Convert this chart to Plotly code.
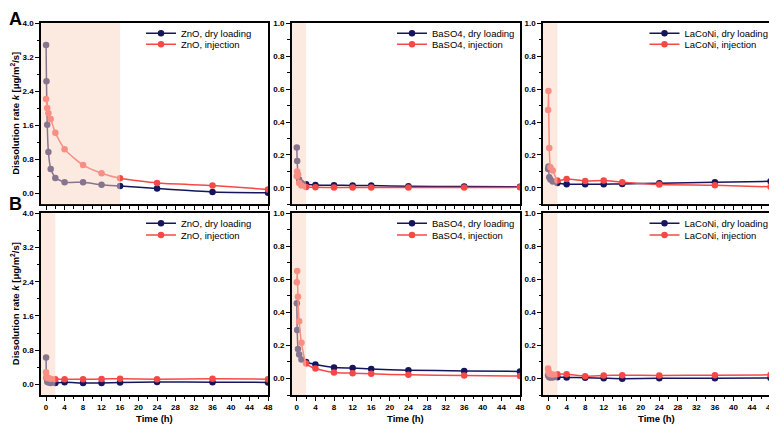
import plotly.graph_objects as go

# ---------------- data ----------------
TIME = [0, 0.083, 0.25, 0.5, 1, 2, 4, 8, 12, 16, 24, 36, 48]
TIME_ZNO_INJ_A = [0, 0.25, 0.5, 1, 2, 4, 8, 12, 16, 24, 36, 48]

# Row A
ZNO_DRY_A = [3.49, 2.64, 1.62, 0.98, 0.58, 0.37, 0.27, 0.265, 0.21, 0.18, 0.12, 0.04, 0.02]
ZNO_INJ_A = [2.22, 2.01, 1.89, 1.75, 1.43, 1.04, 0.67, 0.48, 0.36, 0.25, 0.19, 0.10]
BASO4_DRY_A = [0.245, 0.163, 0.08, 0.05, 0.03, 0.022, 0.018, 0.016, 0.015, 0.014, 0.01, 0.008, 0.006]
BASO4_INJ_A = [0.07, 0.10, 0.08, 0.03, 0.015, 0.005, 0.003, 0.002, 0.002, 0.002, 0.002, 0.002, 0.003]
LACONI_DRY_A = [0.115, 0.13, 0.065, 0.05, 0.038, 0.03, 0.022, 0.022, 0.022, 0.024, 0.028, 0.034, 0.04]
LACONI_INJ_A = [0.473, 0.588, 0.242, 0.125, 0.105, 0.045, 0.054, 0.042, 0.044, 0.034, 0.02, 0.016, 0.006]

# Row B
ZNO_DRY_B = [0.63, 0.15, 0.06, 0.04, 0.03, 0.03, 0.047, 0.03, 0.03, 0.04, 0.055, 0.047, 0.045]
ZNO_INJ_B = [0.28, 0.18, 0.15, 0.14, 0.13, 0.12, 0.117, 0.117, 0.125, 0.13, 0.117, 0.13, 0.12]
BASO4_DRY_B = [0.455, 0.293, 0.178, 0.145, 0.115, 0.10, 0.085, 0.067, 0.063, 0.057, 0.05, 0.046, 0.043]
BASO4_INJ_B = [0.582, 0.65, 0.495, 0.347, 0.216, 0.091, 0.06, 0.036, 0.032, 0.028, 0.022, 0.018, 0.015]
LACONI_DRY_B = [0.02, 0.015, 0.008, 0.006, 0.006, 0.008, 0.006, 0.005, 0.002, -0.001, 0.002, 0.002, 0.003]
LACONI_INJ_B = [0.06, 0.046, 0.03, 0.026, 0.024, 0.026, 0.026, 0.014, 0.018, 0.02, 0.018, 0.02, 0.022]

MATERIALS = ["ZnO", "BaSO4", "LaCoNi"]
SHADE_END_A = [16, 2, 2]
SHADE_END_B = [2, 2, 2]
X_TICKS = list(range(0, 49, 4))

# ---------------- style / layout helpers ----------------
NAVY = "#15155e"
RED = "#f74848"
FONT = "Liberation Sans, Arial, sans-serif"

# the page shows the figure offset by the default 8px body margin
PX0, PY0, PW, PH = 8.0, 8.0, 777.0, 427.0


def fx(px):
    return (px - PX0) / PW


def fy(py):
    return 1 - (py - PY0) / PH


XDOM = [[fx(41), fx(268)], [fx(291.7), fx(520)], [fx(543), fx(770.5)]]
YDOM = [[fy(204.3), fy(23.3)], [fy(395), fy(213.3)]]
LEG_X = [fx(141), fx(392), fx(644.5)]
LEG_Y = [[fy(33.3), fy(44.3)], [fy(223.3), fy(235)]]

panels = [
    (0, 0, TIME, ZNO_DRY_A, TIME_ZNO_INJ_A, ZNO_INJ_A),
    (0, 1, TIME, BASO4_DRY_A, TIME, BASO4_INJ_A),
    (0, 2, TIME, LACONI_DRY_A, TIME, LACONI_INJ_A),
    (1, 0, TIME, ZNO_DRY_B, TIME, ZNO_INJ_B),
    (1, 1, TIME, BASO4_DRY_B, TIME, BASO4_INJ_B),
    (1, 2, TIME, LACONI_DRY_B, TIME, LACONI_INJ_B),
]

fig = go.Figure()
layout = dict(
    width=777, height=427,
    margin=dict(l=0, r=0, t=0, b=0, autoexpand=False),
    paper_bgcolor="white", plot_bgcolor="white",
    font=dict(family=FONT, color="black"),
    showlegend=True,
)
shapes = []
annotations = []
XMIN = -1.1
leg_count = 0

for i, (row, col, tdry, dry, tinj, inj) in enumerate(panels):
    n = i + 1
    xa = "x" if n == 1 else f"x{n}"
    ya = "y" if n == 1 else f"y{n}"
    mat = MATERIALS[col]
    series = [(tdry, dry, f"{mat}, dry loading", NAVY), (tinj, inj, f"{mat}, injection", RED)]
    for k, (tt, vv, name, color) in enumerate(series):
        leg_count += 1
        lg = "legend" if leg_count == 1 else f"legend{leg_count}"
        fig.add_trace(go.Scatter(
            x=tt, y=vv, mode="lines+markers", name=name,
            line=dict(color=color, width=1.5, shape="spline", smoothing=0.5),
            marker=dict(color=color, size=6.5),
            xaxis=xa, yaxis=ya, legend=lg, cliponaxis=True))
        layout[lg] = dict(
            x=LEG_X[col], xanchor="left",
            y=LEG_Y[row][k], yanchor="middle",
            bgcolor="rgba(0,0,0,0)", borderwidth=0,
            font=dict(size=9.5, family=FONT, color="black"),
            itemwidth=30,
        )

    is_zno = col == 0
    yrange = [-0.25, 4.0] if is_zno else [-0.1, 1.0]
    ytickvals = [0, 0.8, 1.6, 2.4, 3.2, 4.0] if is_zno else [0, 0.2, 0.4, 0.6, 0.8, 1.0]
    minor_dy = 0.4 if is_zno else 0.1

    layout["xaxis" if n == 1 else f"xaxis{n}"] = dict(
        domain=XDOM[col], anchor=ya, range=[XMIN, 48],
        tickvals=X_TICKS, showticklabels=(row == 1),
        ticks="outside", ticklen=4, tickwidth=1.2, tickcolor="black",
        minor=dict(dtick=2, tick0=0, ticks="outside", ticklen=2.5, tickwidth=1, tickcolor="black"),
        showline=True, linecolor="black", linewidth=1.5, mirror=True,
        showgrid=False, zeroline=False,
        tickfont=dict(size=8, family=FONT, weight="bold"),
    )
    layout["yaxis" if n == 1 else f"yaxis{n}"] = dict(
        domain=YDOM[row], anchor=xa, range=yrange,
        tickvals=ytickvals, tickformat=".1f",
        ticks="outside", ticklen=4, tickwidth=1.2, tickcolor="black",
        minor=dict(dtick=minor_dy, tick0=0, ticks="outside", ticklen=2.5, tickwidth=1, tickcolor="black"),
        showline=True, linecolor="black", linewidth=1.5, mirror=True,
        showgrid=False, zeroline=False,
        tickfont=dict(size=8, family=FONT, weight="bold"),
    )
    shade_end = (SHADE_END_A if row == 0 else SHADE_END_B)[col]
    shapes.append(dict(
        type="rect", xref=xa, yref=f"{ya} domain",
        x0=XMIN, x1=shade_end, y0=0, y1=1,
        fillcolor="rgb(250,212,192)", opacity=0.5, line=dict(width=0), layer="above"))

    if row == 1:
        annotations.append(dict(
            text="<b>Time (h)</b>", xref="paper", yref="paper",
            x=(XDOM[col][0] + XDOM[col][1]) / 2, y=fy(418),
            showarrow=False, font=dict(size=9.5, family=FONT),
            xanchor="center", yanchor="middle"))

for row in range(2):
    annotations.append(dict(
        text="<b>Dissolution rate <i>k</i> [μg/m<sup>2</sup>/s]</b>",
        xref="paper", yref="paper", x=fx(15), y=sum(YDOM[row]) / 2,
        textangle=-90, showarrow=False, font=dict(size=9.5, family=FONT),
        xanchor="center", yanchor="middle"))

annotations.append(dict(text="<b>A</b>", xref="paper", yref="paper", x=0, y=1,
                        xanchor="left", yanchor="top", showarrow=False, borderpad=0,
                        font=dict(size=18, family=FONT)))
annotations.append(dict(text="<b>B</b>", xref="paper", yref="paper", x=0, y=fy(193),
                        xanchor="left", yanchor="top", showarrow=False, borderpad=0,
                        font=dict(size=18, family=FONT)))

layout["shapes"] = shapes
layout["annotations"] = annotations
fig.update_layout(**layout)
fig.write_html("out.html")
